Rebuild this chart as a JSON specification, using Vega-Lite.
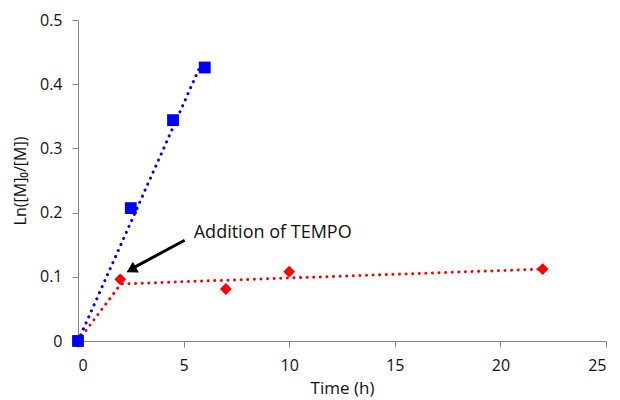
{
  "$schema": "https://vega.github.io/schema/vega-lite/v6.json",
  "width": 528,
  "height": 321,
  "autosize": "none",
  "padding": {"left": 78, "top": 20, "right": 14, "bottom": 59},
  "background": "white",
  "config": {
    "view": {"stroke": null},
    "font": "Open Sans",
    "axis": {
      "grid": false,
      "domainColor": "#868686",
      "tickColor": "#868686",
      "tickSize": 6,
      "labelColor": "#111111",
      "labelFontSize": 16,
      "titleFontSize": 16,
      "titleFontWeight": "normal",
      "titleColor": "#111111"
    }
  },
  "datasets": {
    "points": [
      {"series": "tempo", "x": 0, "y": 0},
      {"series": "tempo", "x": 2, "y": 0.096},
      {"series": "tempo", "x": 7, "y": 0.081},
      {"series": "tempo", "x": 10, "y": 0.108},
      {"series": "tempo", "x": 22, "y": 0.112},
      {"series": "before", "x": 0, "y": 0},
      {"series": "before", "x": 2.5, "y": 0.207},
      {"series": "before", "x": 4.5, "y": 0.344},
      {"series": "before", "x": 6, "y": 0.426}
    ],
    "trends": [
      {"series": "tempo", "seg": "t1", "x": 0, "y": 0.0},
      {"series": "tempo", "seg": "t1", "x": 2.1, "y": 0.092},
      {"series": "tempo", "seg": "t2", "x": 2.1, "y": 0.089},
      {"series": "tempo", "seg": "t2", "x": 22, "y": 0.112},
      {"series": "before", "seg": "b1", "x": 0, "y": 0.0},
      {"series": "before", "seg": "b1", "x": 5.95, "y": 0.44}
    ],
    "arrow": [{"x": 5.05, "y": 0.157, "x2": 2.62, "y2": 0.114}],
    "arrowhead": [{"x": 2.52, "y": 0.111}],
    "label": [{"x": 5.48, "y": 0.168, "text": "Addition of TEMPO"}]
  },
  "encoding": {
    "x": {
      "field": "x",
      "type": "quantitative",
      "scale": {"domain": [0, 25], "nice": false},
      "axis": {"values": [0, 5, 10, 15, 20, 25], "title": "Time (h)", "titleFontSize": 17, "labelPadding": 10, "titlePadding": 7}
    },
    "y": {
      "field": "y",
      "type": "quantitative",
      "scale": {"domain": [0, 0.5], "nice": false},
      "axis": {"values": [0, 0.1, 0.2, 0.3, 0.4, 0.5], "format": ".1~f", "title": "Ln([M]₀/[M])", "labelPadding": 10, "titlePadding": 11}
    }
  },
  "layer": [
    {
      "data": {"name": "trends"},
      "mark": {"type": "line", "strokeWidth": 3, "strokeDash": [0.1, 6.5], "strokeCap": "round"},
      "encoding": {
        "detail": {"field": "seg"},
        "color": {"field": "series", "type": "nominal", "scale": {"domain": ["before", "tempo"], "range": ["#0000FF", "#FF0000"]}, "legend": null}
      }
    },
    {
      "data": {"name": "points"},
      "mark": {"type": "point", "filled": true, "opacity": 1, "size": 140},
      "encoding": {
        "color": {"field": "series", "type": "nominal", "scale": {"domain": ["before", "tempo"], "range": ["#0000FF", "#FF0000"]}, "legend": null},
        "shape": {"field": "series", "type": "nominal", "scale": {"domain": ["before", "tempo"], "range": ["square", "diamond"]}, "legend": null}
      }
    },
    {
      "data": {"name": "arrow"},
      "mark": {"type": "rule", "color": "black", "strokeWidth": 3},
      "encoding": {
        "x2": {"field": "x2"},
        "y2": {"field": "y2"}
      }
    },
    {
      "data": {"name": "arrowhead"},
      "mark": {"type": "point", "shape": "triangle-up", "filled": true, "color": "black", "opacity": 1, "size": 150, "angle": 241}
    },
    {
      "data": {"name": "label"},
      "mark": {"type": "text", "align": "left", "baseline": "middle", "fontSize": 18, "color": "#111111"},
      "encoding": {"text": {"field": "text"}}
    }
  ]
}
